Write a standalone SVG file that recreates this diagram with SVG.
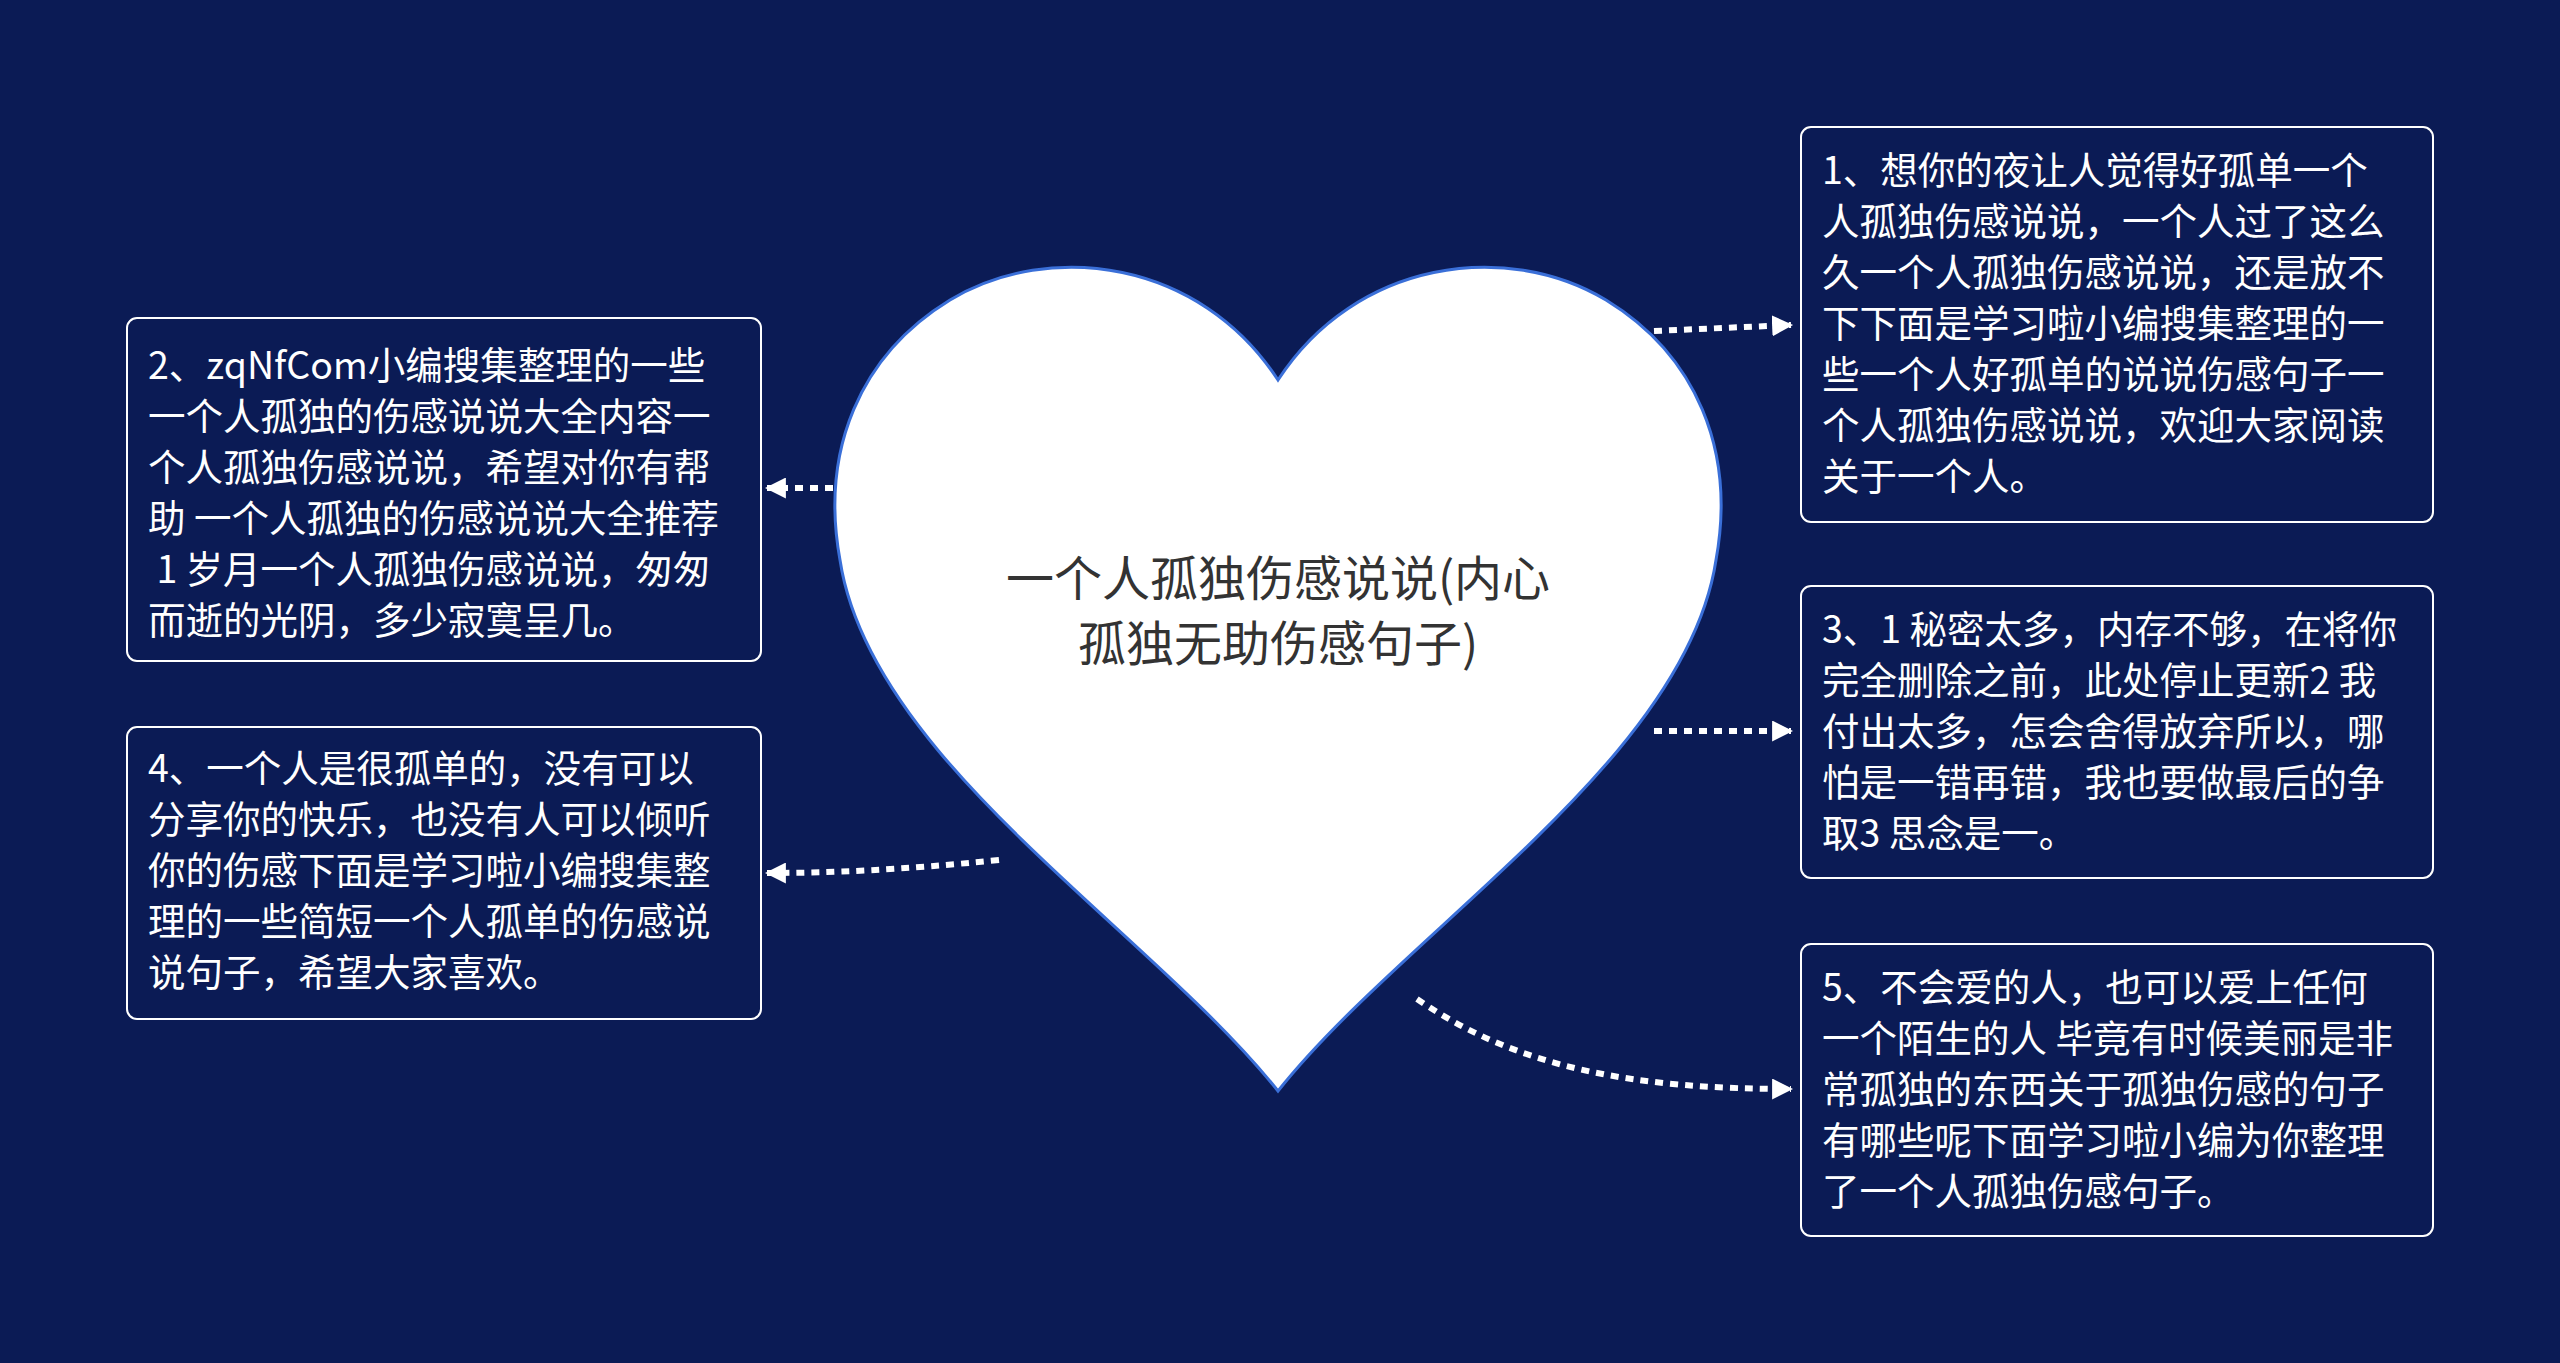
<svg xmlns="http://www.w3.org/2000/svg" width="2560" height="1363" viewBox="0 0 2560 1363">
<defs>
<style>
.box{fill:#0b1b55;stroke:#ffffff;stroke-width:2}
.t{fill:#ffffff;font-family:"Noto Sans CJK SC","Noto Sans",sans-serif;font-size:37.5px}
.c{fill:none;stroke:#ffffff;stroke-width:6;stroke-dasharray:8,7}
</style>
<marker id="a" viewBox="0 0 10 10" refX="9" refY="5" markerWidth="3.5" markerHeight="3.5" orient="auto"><path d="M0,0L10,5L0,10z" fill="#ffffff"/></marker>
</defs>
<rect width="2560" height="1363" fill="#0b1b55"/>
<g id="connectors">
<path class="c" d="M1654,331 L1791,325" marker-end="url(#a)"/>
<path class="c" d="M1654,731 L1791,731" marker-end="url(#a)"/>
<path class="c" d="M1417,999 C1520,1070 1640,1089 1791,1089" marker-end="url(#a)"/>
<path class="c" d="M833,488 L767,488" marker-end="url(#a)"/>
<path class="c" d="M999,860 C900,870 830,873 767,873" marker-end="url(#a)"/>
</g>
<g id="center">
<path d="M1278,380 C1200,260 1050,240 950,300 C860,355 820,450 840,560 C870,760 1150,930 1278,1091 C1406,930 1686,760 1716,560 C1736,450 1696,355 1606,300 C1506,240 1356,260 1278,380Z" fill="#ffffff" stroke="#3a6fd8" stroke-width="3"/>
<text class="t" style="fill:#333333;font-size:48px" text-anchor="middle"><tspan x="1278" y="596">一个人孤独伤感说说(内心</tspan><tspan x="1278" y="661">孤独无助伤感句子)</tspan></text>
</g>
<g id="n1">
<rect class="box" x="1801" y="127" width="632" height="395" rx="10"/>
<text class="t"><tspan x="1822" y="184">1、想你的夜让人觉得好孤单一个</tspan><tspan x="1822" y="235">人孤独伤感说说，一个人过了这么</tspan><tspan x="1822" y="286">久一个人孤独伤感说说，还是放不</tspan><tspan x="1822" y="337">下下面是学习啦小编搜集整理的一</tspan><tspan x="1822" y="388">些一个人好孤单的说说伤感句子一</tspan><tspan x="1822" y="439">个人孤独伤感说说，欢迎大家阅读</tspan><tspan x="1822" y="490">关于一个人。</tspan></text>
</g>
<g id="n3">
<rect class="box" x="1801" y="586" width="632" height="292" rx="10"/>
<text class="t"><tspan x="1822" y="643">3、1 秘密太多，内存不够，在将你</tspan><tspan x="1822" y="694">完全删除之前，此处停止更新2 我</tspan><tspan x="1822" y="745">付出太多，怎会舍得放弃所以，哪</tspan><tspan x="1822" y="796">怕是一错再错，我也要做最后的争</tspan><tspan x="1822" y="847">取3 思念是一。</tspan></text>
</g>
<g id="n5">
<rect class="box" x="1801" y="944" width="632" height="292" rx="10"/>
<text class="t"><tspan x="1822" y="1001">5、不会爱的人，也可以爱上任何</tspan><tspan x="1822" y="1052">一个陌生的人 毕竟有时候美丽是非</tspan><tspan x="1822" y="1103">常孤独的东西关于孤独伤感的句子</tspan><tspan x="1822" y="1154">有哪些呢下面学习啦小编为你整理</tspan><tspan x="1822" y="1205">了一个人孤独伤感句子。</tspan></text>
</g>
<g id="n2">
<rect class="box" x="127" y="318" width="634" height="343" rx="10"/>
<text class="t"><tspan x="148" y="379">2、zqNfCom小编搜集整理的一些</tspan><tspan x="148" y="430">一个人孤独的伤感说说大全内容一</tspan><tspan x="148" y="481">个人孤独伤感说说，希望对你有帮</tspan><tspan x="148" y="532">助 一个人孤独的伤感说说大全推荐</tspan><tspan x="148" y="583"> 1 岁月一个人孤独伤感说说，匆匆</tspan><tspan x="148" y="634">而逝的光阴，多少寂寞呈几。</tspan></text>
</g>
<g id="n4">
<rect class="box" x="127" y="727" width="634" height="292" rx="10"/>
<text class="t"><tspan x="148" y="782">4、一个人是很孤单的，没有可以</tspan><tspan x="148" y="833">分享你的快乐，也没有人可以倾听</tspan><tspan x="148" y="884">你的伤感下面是学习啦小编搜集整</tspan><tspan x="148" y="935">理的一些简短一个人孤单的伤感说</tspan><tspan x="148" y="986">说句子，希望大家喜欢。</tspan></text>
</g>
</svg>
